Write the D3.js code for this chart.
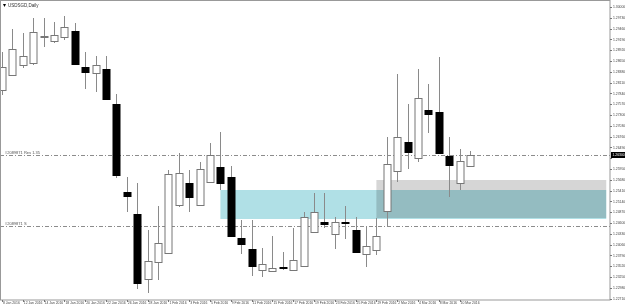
<!DOCTYPE html>
<html>
<head>
<meta charset="utf-8">
<script src="https://cdn.jsdelivr.net/npm/d3@7/dist/d3.min.js"></script>
<style>
  body { margin: 0; background: #fff; }
  svg { display: block; font-family: "Liberation Sans Narrow", "Liberation Sans", sans-serif; }
</style>
</head>
<body>
<div id="container"></div>
<script>
/* CONSTANTS AND GLOBALS */
const width = 625, height = 307,
  plot = { left: 0, top: 0, right: 610, bottom: 300 };

// DATA - daily bars
const dates = ["8 Jan 2016","11 Jan 2016","12 Jan 2016","13 Jan 2016","14 Jan 2016","15 Jan 2016",
  "18 Jan 2016","19 Jan 2016","20 Jan 2016","21 Jan 2016","22 Jan 2016",
  "25 Jan 2016","26 Jan 2016","27 Jan 2016","28 Jan 2016","29 Jan 2016",
  "1 Feb 2016","2 Feb 2016","3 Feb 2016","4 Feb 2016","5 Feb 2016",
  "8 Feb 2016","9 Feb 2016","10 Feb 2016","11 Feb 2016","12 Feb 2016",
  "15 Feb 2016","16 Feb 2016","17 Feb 2016","18 Feb 2016","19 Feb 2016",
  "22 Feb 2016","23 Feb 2016","24 Feb 2016","25 Feb 2016","26 Feb 2016",
  "29 Feb 2016","1 Mar 2016","2 Mar 2016","3 Mar 2016","4 Mar 2016",
  "7 Mar 2016","8 Mar 2016","9 Mar 2016","10 Mar 2016","11 Mar 2016"];
const open  = [1.27925,1.28300,1.28550,1.28600,1.29250,1.29150,1.29250,1.29400,1.28500,1.28350,1.28450,
  1.27575,1.25375,1.24825,1.23200,1.23625,1.23850,1.25050,1.25600,1.25050,1.25625,
  1.26000,1.25750,1.24225,1.23950,1.23425,1.23400,1.23500,1.23425,1.23525,1.24375,
  1.24625,1.24325,1.24625,1.24425,1.23825,1.23925,1.24900,1.25900,1.26625,1.26225,
  1.27425,1.27375,1.26275,1.25600,1.26025];
const high  = [1.28875,1.29450,1.29350,1.29725,1.29725,1.29625,1.29775,1.29600,1.28875,1.28775,1.28775,
  1.27825,1.25750,1.25600,1.24425,1.25025,1.25925,1.26350,1.25925,1.26125,1.26600,
  1.26875,1.26025,1.24675,1.24675,1.23975,1.24275,1.23875,1.24475,1.24875,1.25350,
  1.25350,1.24750,1.25025,1.24750,1.24500,1.24725,1.26750,1.28325,1.27575,1.28450,
  1.28075,1.28750,1.26750,1.26450,1.26400];
const low   = [1.27800,1.28275,1.28475,1.28550,1.29000,1.29100,1.29175,1.28550,1.27950,1.27875,1.27675,
  1.25725,1.24875,1.22950,1.22850,1.23175,1.23825,1.25000,1.24875,1.25025,1.25600,
  1.25425,1.24250,1.23825,1.23275,1.23250,1.23375,1.23425,1.23400,1.23500,1.24350,
  1.24475,1.23950,1.24200,1.23850,1.23500,1.23800,1.24525,1.25625,1.25950,1.26125,
  1.26850,1.26325,1.25250,1.25425,1.26025];
const close = [1.28500,1.28950,1.28775,1.29375,1.29275,1.29300,1.29500,1.28575,1.28375,1.28550,1.27700,
  1.25800,1.25275,1.23100,1.23650,1.24100,1.25825,1.25850,1.25250,1.25950,1.26300,
  1.25600,1.24275,1.24075,1.23525,1.23575,1.23475,1.23475,1.23675,1.24750,1.24875,
  1.24575,1.24625,1.24600,1.23875,1.24025,1.24275,1.26075,1.26750,1.26375,1.27725,
  1.27325,1.26350,1.26050,1.26150,1.26300];

// price axis labels
const priceTicks = d3.range(28).map(k => +(1.30000 - k * 0.0027).toFixed(5));

// zones (rectangles): start bar, end bar, top price, bottom price
const zoneStart  = [21, 36];
const zoneEnd    = [58.1, 58.1];
const zoneTop    = [1.25425, 1.25675];
const zoneBottom = [1.24700, 1.24725];
const zoneColor  = ["#b0e0e6", "#d6d6d6"];

// horizontal lines
const levelPrice = [1.26300, 1.24525];
const levelName  = ["#2089871 Res 1.35", "#2089871 S"];

const symbol = "USDSGD,Daily";

const bars = dates.map((d, i) => ({
  date: d, i: i, o: open[i], h: high[i], l: low[i], c: close[i]
}));

/* SCALES */
const x = d3.scaleLinear().domain([0, 45]).range([2, 470]);
const y = d3.scaleLinear().domain([1.22675, 1.30175]).range([300, 0]);

/* SVG */
const svg = d3.select("#container")
  .append("svg")
  .attr("width", width)
  .attr("height", height);

svg.append("clipPath").attr("id", "clip")
  .append("rect")
  .attr("x", plot.left + 1).attr("y", plot.top + 1)
  .attr("width", plot.right - plot.left - 1)
  .attr("height", plot.bottom - plot.top - 1);

const g = svg.append("g").attr("clip-path", "url(#clip)");

// zones, blended so overlap darkens
g.selectAll("rect.zone")
  .data(zoneStart.map((s, k) => ({ s, e: zoneEnd[k], t: zoneTop[k], b: zoneBottom[k], col: zoneColor[k] })))
  .join("rect")
  .attr("class", "zone")
  .attr("x", d => x(d.s))
  .attr("width", d => x(d.e) - x(d.s))
  .attr("y", d => y(d.t))
  .attr("height", d => y(d.b) - y(d.t))
  .attr("fill", d => d.col)
  .style("mix-blend-mode", "multiply");

// level lines
g.selectAll("line.level")
  .data(levelPrice)
  .join("line")
  .attr("class", "level")
  .attr("x1", 0).attr("x2", plot.right)
  .attr("y1", d => Math.round(y(d)) + 0.5)
  .attr("y2", d => Math.round(y(d)) + 0.5)
  .attr("stroke", "#8c8c8c")
  .attr("stroke-width", 1)
  .attr("stroke-dasharray", "4,2,1,2");

g.selectAll("text.level")
  .data(levelPrice)
  .join("text")
  .attr("class", "level")
  .attr("x", 5)
  .attr("y", d => Math.round(y(d)) - 1)
  .attr("font-size", 4)
  .attr("fill", "#555")
  .text((d, k) => levelName[k]);

// wicks
g.selectAll("line.wick")
  .data(bars)
  .join("line")
  .attr("class", "wick")
  .attr("x1", d => Math.round(x(d.i)) + 0.5)
  .attr("x2", d => Math.round(x(d.i)) + 0.5)
  .attr("y1", d => y(d.h))
  .attr("y2", d => y(d.l))
  .attr("stroke", "#8a8a8a")
  .attr("stroke-width", 1);

// bodies
const bodyW = 7;
g.selectAll("rect.body")
  .data(bars)
  .join("rect")
  .attr("class", "body")
  .attr("x", d => Math.round(x(d.i)) - bodyW / 2 + 0.5)
  .attr("width", bodyW)
  .attr("y", d => Math.round(y(Math.max(d.o, d.c))) + 0.5)
  .attr("height", d => Math.max(1, Math.round(Math.abs(y(d.o) - y(d.c)))))
  .attr("fill", d => d.c >= d.o ? "#fff" : "#000")
  .attr("stroke", d => d.c >= d.o ? "#777" : "#000")
  .attr("stroke-width", 1);

// frame
svg.append("rect")
  .attr("x", 0.5).attr("y", 0.5)
  .attr("width", plot.right - 0.5).attr("height", plot.bottom - 0.5)
  .attr("fill", "none")
  .attr("stroke", "#999");

// title
svg.append("path")
  .attr("d", "M3,4 L6,4 L4.5,7 Z")
  .attr("fill", "#000");
svg.append("text")
  .attr("x", 8).attr("y", 7)
  .attr("font-size", 4.5)
  .attr("fill", "#333")
  .text(symbol);

// right price axis
const last = close[close.length - 1];
const shownTicks = priceTicks.filter(p => Math.abs(y(p) - y(last)) > 6);
const yAxis = svg.append("g");
yAxis.selectAll("line")
  .data(priceTicks)
  .join("line")
  .attr("x1", plot.right).attr("x2", plot.right + 2)
  .attr("y1", d => Math.round(y(d)) + 0.5)
  .attr("y2", d => Math.round(y(d)) + 0.5)
  .attr("stroke", "#777");
yAxis.selectAll("text")
  .data(shownTicks)
  .join("text")
  .attr("x", plot.right + 3)
  .attr("y", d => y(d) + 1.2)
  .attr("font-size", 3.4)
  .attr("fill", "#444")
  .text(d => d.toFixed(5));

// current price marker
svg.append("rect")
  .attr("x", plot.right + 1).attr("y", Math.round(y(last)) - 3)
  .attr("width", width - plot.right - 1).attr("height", 6)
  .attr("fill", "#000");
svg.append("text")
  .attr("x", plot.right + 2.5).attr("y", y(last) + 1.4)
  .attr("font-size", 3.4)
  .attr("fill", "#fff")
  .text(last.toFixed(5));

// bottom time axis (every second bar)
const timeTicks = bars.filter(d => d.i % 2 === 0);
const xAxis = svg.append("g");
xAxis.selectAll("line")
  .data(timeTicks)
  .join("line")
  .attr("x1", d => Math.round(x(d.i)) + 0.5)
  .attr("x2", d => Math.round(x(d.i)) + 0.5)
  .attr("y1", plot.bottom).attr("y2", plot.bottom + 2)
  .attr("stroke", "#777");
xAxis.selectAll("text")
  .data(timeTicks)
  .join("text")
  .attr("x", d => x(d.i) + 1)
  .attr("y", plot.bottom + 4.2)
  .attr("font-size", 3.4)
  .attr("fill", "#444")
  .text(d => d.date);
</script>
</body>
</html>
